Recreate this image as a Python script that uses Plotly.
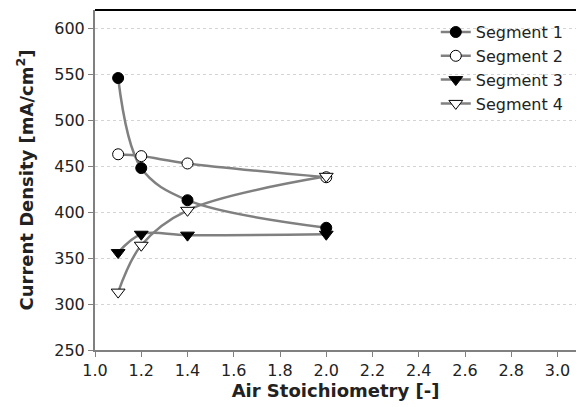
import plotly.graph_objects as go

stoich = [1.1, 1.2, 1.4, 2.0]
seg1 = [546, 448, 413, 383]
seg2 = [463, 461, 453, 438]
seg3 = [356, 376, 375, 376]
seg4 = [313, 364, 402, 439]

names = ["Segment 1", "Segment 2", "Segment 3", "Segment 4"]
symbols = ["circle", "circle", "triangle-down", "triangle-down"]
fills = ["black", "white", "black", "white"]
sizes = [11, 11, 12, 12]
series = [seg1, seg2, seg3, seg4]

fig = go.Figure()
for n, s, f, sz, y in zip(names, symbols, fills, sizes, series):
    fig.add_trace(go.Scatter(
        x=stoich, y=y, name=n, mode="lines+markers",
        line=dict(color="#808080", width=2.5, shape="spline", smoothing=1.0),
        marker=dict(symbol=s, size=sz, color=f, line=dict(color="black", width=1)),
    ))

font_family = "DejaVu Sans, Liberation Sans, sans-serif"
fig.update_layout(
    width=577, height=407,
    margin=dict(l=95, r=1, t=10, b=57),
    paper_bgcolor="white", plot_bgcolor="white",
    font=dict(family=font_family, size=16, color="#222"),
    showlegend=True,
    legend=dict(x=0.985, y=0.985, xanchor="right", yanchor="top",
                font=dict(size=16, color="#222"), bgcolor="rgba(0,0,0,0)",
                tracegroupgap=0),
    xaxis=dict(
        range=[1.0, 3.08], tickvals=[1.0, 1.2, 1.4, 1.6, 1.8, 2.0, 2.2, 2.4, 2.6, 2.8, 3.0],
        ticktext=["1.0", "1.2", "1.4", "1.6", "1.8", "2.0", "2.2", "2.4", "2.6", "2.8", "3.0"],
        showgrid=False, zeroline=False, showline=True, linecolor="#808080", linewidth=2,
        ticks="outside", ticklen=5, tickcolor="#808080",
        title=dict(text="<b>Air Stoichiometry [-]</b>", font=dict(size=18), standoff=4),
    ),
    yaxis=dict(
        range=[250, 620], tickvals=[250, 300, 350, 400, 450, 500, 550, 600],
        showgrid=True, gridcolor="#d4d4d4", griddash="dot", gridwidth=1,
        zeroline=False, showline=True, linecolor="#808080", linewidth=2,
        ticks="outside", ticklen=5, tickcolor="#808080",
        title=dict(text="<b>Current Density [mA/cm<sup>2</sup>]</b>", font=dict(size=18), standoff=16),
    ),
    shapes=[dict(type="line", xref="paper", yref="paper", x0=0, x1=1, y0=1, y1=1,
                 line=dict(color="black", width=2))],
)

fig.write_html("out.html", config={"displayModeBar": False},
               post_script="document.body.style.margin='0';document.body.style.overflow='hidden';")
